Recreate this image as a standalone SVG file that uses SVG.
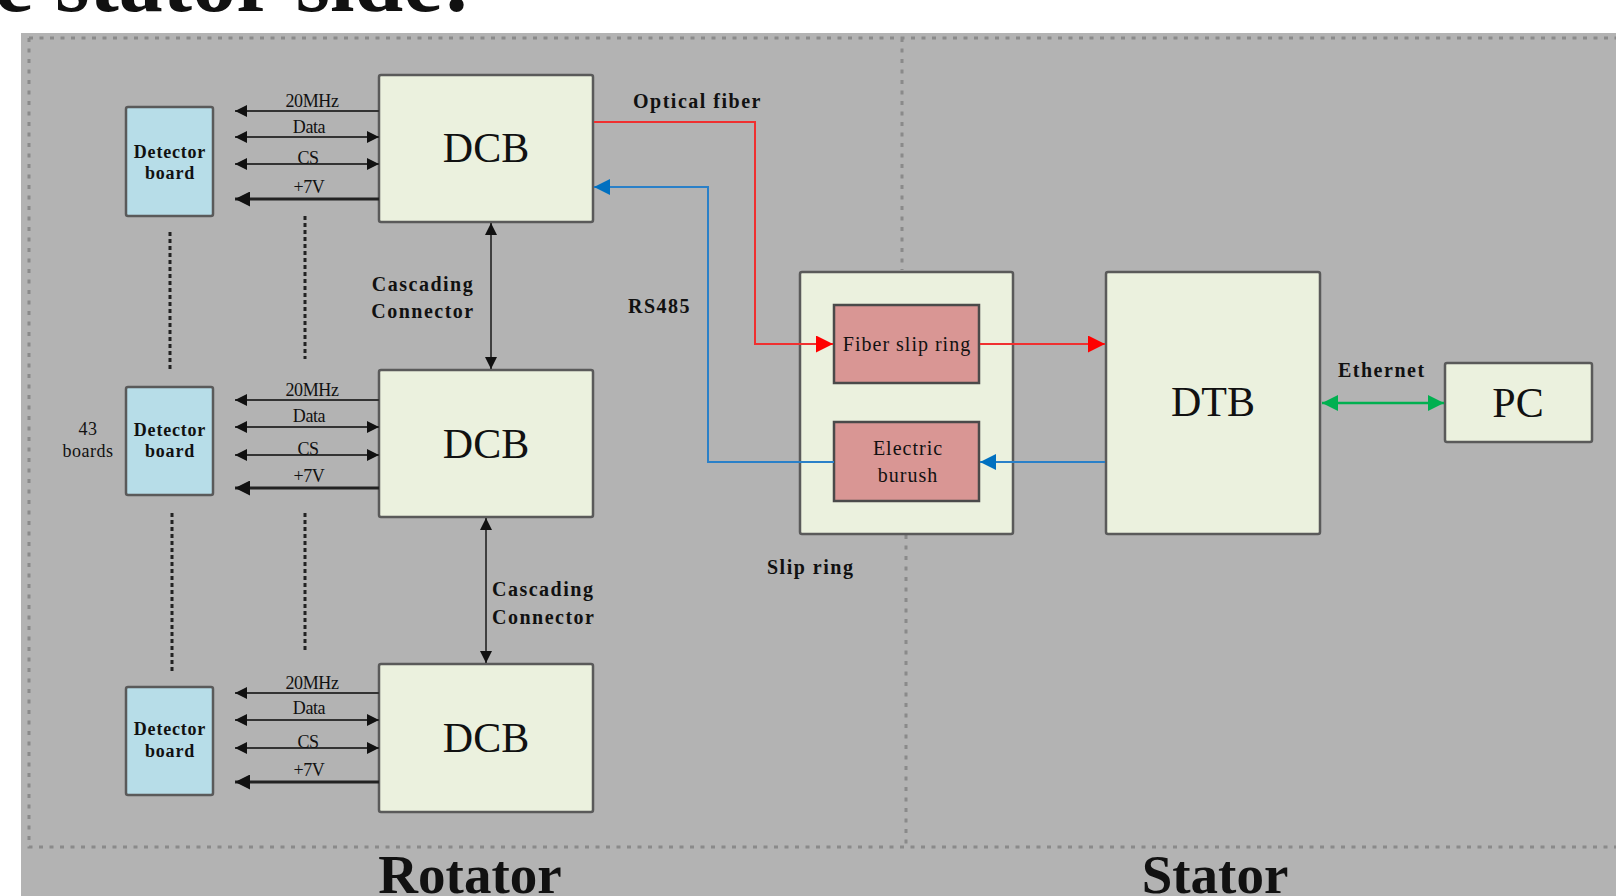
<svg xmlns="http://www.w3.org/2000/svg" width="1616" height="896" viewBox="0 0 1616 896">
<style>
text{font-family:"Liberation Serif","Times New Roman",serif;fill:#111}
.box{fill:#ebf1de;stroke:#5a5a5a;stroke-width:2.5}
.det{fill:#b7dde8;stroke:#5a5a5a;stroke-width:2.5}
.sal{fill:#d99694;stroke:#4a4a4a;stroke-width:2.5}
.big{font-size:42px;text-anchor:middle}
.lbl{font-size:20px;font-weight:bold;letter-spacing:1.5px}
.sig{font-size:18px;text-anchor:middle;letter-spacing:-0.4px}
.dtxt{font-size:18px;font-weight:bold;text-anchor:middle;letter-spacing:0.8px}
.ln{stroke:#333;stroke-width:1.8;fill:none}
.thick{stroke:#222;stroke-width:3.2;fill:none}
.dots{stroke:#222;stroke-width:3;stroke-dasharray:4 3;fill:none}
.frame{stroke:#8a8a8a;stroke-width:3;stroke-dasharray:4 6.5;fill:none}
</style>
<defs>
<marker id="ak" viewBox="0 0 10 10" refX="10" refY="5" markerWidth="15" markerHeight="12" markerUnits="userSpaceOnUse" orient="auto-start-reverse"><path d="M0,0L10,5L0,10z" fill="#111"/></marker>
<marker id="akb" viewBox="0 0 10 10" refX="10" refY="5" markerWidth="17" markerHeight="15" markerUnits="userSpaceOnUse" orient="auto-start-reverse"><path d="M0,0L10,5L0,10z" fill="#111"/></marker>
<marker id="ar" viewBox="0 0 10 10" refX="10" refY="5" markerWidth="22" markerHeight="17" markerUnits="userSpaceOnUse" orient="auto-start-reverse"><path d="M0,0L10,5L0,10z" fill="#ff0000"/></marker>
<marker id="ab" viewBox="0 0 10 10" refX="10" refY="5" markerWidth="22" markerHeight="16" markerUnits="userSpaceOnUse" orient="auto-start-reverse"><path d="M0,0L10,5L0,10z" fill="#0070c0"/></marker>
<marker id="ag" viewBox="0 0 10 10" refX="10" refY="5" markerWidth="22" markerHeight="16" markerUnits="userSpaceOnUse" orient="auto-start-reverse"><path d="M0,0L10,5L0,10z" fill="#00b050"/></marker>
</defs>
<rect width="1616" height="896" fill="#ffffff"/>
<text x="-84" y="11" font-size="88" font-weight="bold">the stator side:</text>
<rect x="21" y="33" width="1600" height="870" fill="#b3b3b3"/>
<g id="frame">
<path class="frame" d="M29,38H1616M29,38V847H1616M902,38V270M906,535V847"/>
</g>
<g id="det-top"><rect class="det" x="126" y="107" width="87" height="109" rx="2"/><text class="dtxt" x="170" y="158">Detector</text><text class="dtxt" x="170" y="179">board</text></g>
<g id="det-mid"><rect class="det" x="126" y="387" width="87" height="108" rx="2"/><text class="dtxt" x="170" y="436">Detector</text><text class="dtxt" x="170" y="457">board</text></g>
<g id="det-bot"><rect class="det" x="126" y="687" width="87" height="108" rx="2"/><text class="dtxt" x="170" y="735">Detector</text><text class="dtxt" x="170" y="757">board</text></g>
<g id="dcb-top"><rect class="box" x="379" y="75" width="214" height="147" rx="2"/><text class="big" x="486" y="162">DCB</text></g>
<g id="dcb-mid"><rect class="box" x="379" y="370" width="214" height="147" rx="2"/><text class="big" x="486" y="458">DCB</text></g>
<g id="dcb-bot"><rect class="box" x="379" y="664" width="214" height="148" rx="2"/><text class="big" x="486" y="752">DCB</text></g>
<g id="slip-ring"><rect class="box" x="800" y="272" width="213" height="262" rx="2"/></g>
<g id="fiber-slip-ring"><rect class="sal" x="834" y="305" width="145" height="78"/><text x="907" y="351" font-size="20" letter-spacing="1" text-anchor="middle">Fiber slip ring</text></g>
<g id="electric-brush"><rect class="sal" x="834" y="422" width="145" height="79"/><text x="908" y="455" font-size="20" letter-spacing="1" text-anchor="middle">Electric</text><text x="908" y="482" font-size="20" letter-spacing="1" text-anchor="middle">burush</text></g>
<g id="dtb"><rect class="box" x="1106" y="272" width="214" height="262" rx="2"/><text class="big" x="1213" y="416">DTB</text></g>
<g id="pc"><rect class="box" x="1445" y="363" width="147" height="79" rx="2"/><text class="big" x="1518" y="417">PC</text></g>
<g id="connectors">
<g id="sig-top">
<line class="ln" x1="379" y1="111" x2="235" y2="111" marker-end="url(#ak)"/>
<line class="ln" x1="379" y1="137" x2="235" y2="137" marker-start="url(#ak)" marker-end="url(#ak)"/>
<line class="ln" x1="379" y1="164" x2="235" y2="164" marker-start="url(#ak)" marker-end="url(#ak)"/>
<line class="thick" x1="379" y1="199" x2="235" y2="199" marker-end="url(#akb)"/>
</g>
<g id="sig-mid">
<line class="ln" x1="379" y1="400" x2="235" y2="400" marker-end="url(#ak)"/>
<line class="ln" x1="379" y1="427" x2="235" y2="427" marker-start="url(#ak)" marker-end="url(#ak)"/>
<line class="ln" x1="379" y1="455" x2="235" y2="455" marker-start="url(#ak)" marker-end="url(#ak)"/>
<line class="thick" x1="379" y1="488" x2="235" y2="488" marker-end="url(#akb)"/>
</g>
<g id="sig-bot">
<line class="ln" x1="379" y1="693" x2="235" y2="693" marker-end="url(#ak)"/>
<line class="ln" x1="379" y1="720" x2="235" y2="720" marker-start="url(#ak)" marker-end="url(#ak)"/>
<line class="ln" x1="379" y1="748" x2="235" y2="748" marker-start="url(#ak)" marker-end="url(#ak)"/>
<line class="thick" x1="379" y1="782" x2="235" y2="782" marker-end="url(#akb)"/>
</g>
<path class="dots" d="M170,232V371M172,513V671M305,216V359M305,513V652"/>
<line class="ln" x1="491" y1="223" x2="491" y2="369" marker-start="url(#ak)" marker-end="url(#ak)"/>
<line class="ln" x1="486" y1="518" x2="486" y2="663" marker-start="url(#ak)" marker-end="url(#ak)"/>
<path d="M594,122H755V344H833" fill="none" stroke="#f03030" stroke-width="2" marker-end="url(#ar)"/>
<line x1="980" y1="344" x2="1105" y2="344" stroke="#f03030" stroke-width="2" marker-end="url(#ar)"/>
<line x1="1105" y1="462" x2="980" y2="462" stroke="#2a80c8" stroke-width="2" marker-end="url(#ab)"/>
<path d="M834,462H708V187H594" fill="none" stroke="#2a80c8" stroke-width="2" marker-end="url(#ab)"/>
<line x1="1322" y1="403" x2="1444" y2="403" stroke="#00b050" stroke-width="2.5" marker-start="url(#ag)" marker-end="url(#ag)"/>
</g>
<g id="labels">
<text class="sig" x="312" y="107">20MHz</text>
<text class="sig" x="309" y="133">Data</text>
<text class="sig" x="308" y="164">CS</text>
<text class="sig" x="309" y="193">+7V</text>
<text class="sig" x="312" y="396">20MHz</text>
<text class="sig" x="309" y="422">Data</text>
<text class="sig" x="308" y="455">CS</text>
<text class="sig" x="309" y="482">+7V</text>
<text class="sig" x="312" y="689">20MHz</text>
<text class="sig" x="309" y="714">Data</text>
<text class="sig" x="308" y="748">CS</text>
<text class="sig" x="309" y="776">+7V</text>
<text class="sig" x="88" y="435" style="letter-spacing:0.5px">43</text>
<text class="sig" x="88" y="457" style="letter-spacing:0.5px">boards</text>
<text class="lbl" x="423" y="291" text-anchor="middle">Cascading</text>
<text class="lbl" x="423" y="318" text-anchor="middle">Connector</text>
<text class="lbl" x="492" y="596">Cascading</text>
<text class="lbl" x="492" y="624">Connector</text>
<text class="lbl" x="633" y="108">Optical fiber</text>
<text class="lbl" x="628" y="313">RS485</text>
<text class="lbl" x="767" y="574">Slip ring</text>
<text class="lbl" x="1338" y="377">Ethernet</text>
<text x="470" y="893" font-size="55" font-weight="bold" text-anchor="middle">Rotator</text>
<text x="1215" y="893" font-size="55" font-weight="bold" text-anchor="middle">Stator</text>
</g>
</svg>
